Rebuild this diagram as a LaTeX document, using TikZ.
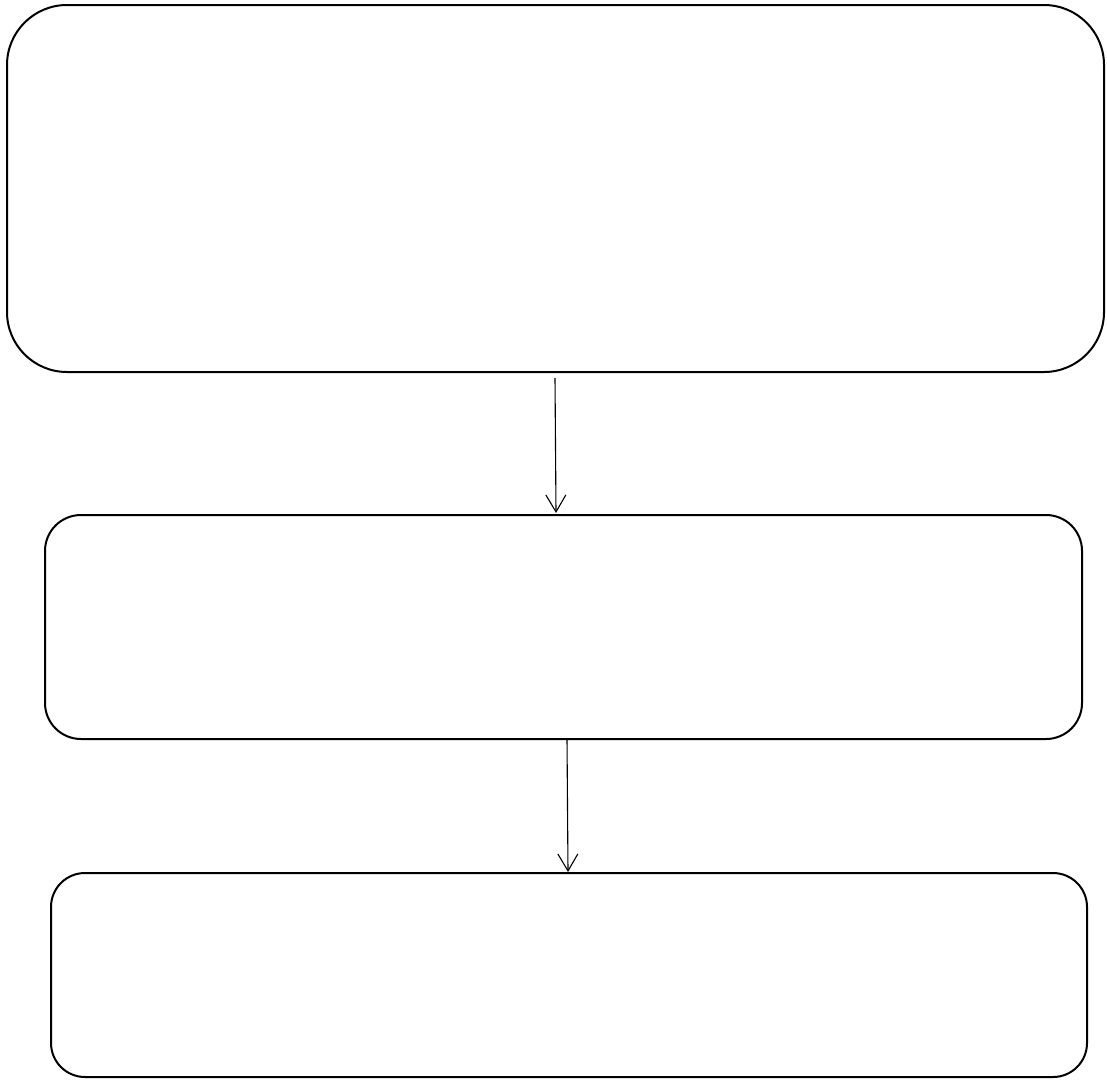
\documentclass[tikz,border=0pt]{standalone}
\usetikzlibrary{arrows.meta}
\begin{document}
\begin{tikzpicture}[x=1pt,y=1pt,
  boxstyle/.style={draw=black,line width=2pt,rectangle,inner sep=0pt,outer sep=0pt,fill=white},
  conn/.style={draw=black,line width=1.1pt,-{Straight Barb[length=17pt,width=20pt,line width=1.1pt]}}]
\useasboundingbox[fill=white] (0,0) rectangle (1107,-1079);
\node[boxstyle,rounded corners=60pt,minimum width=1097pt,minimum height=367pt] (b1) at (555.5,-188.5) {};
\node[boxstyle,rounded corners=36pt,minimum width=1037pt,minimum height=224pt] (b2) at (563.5,-627) {};
\node[boxstyle,rounded corners=34pt,minimum width=1036pt,minimum height=204pt] (b3) at (569,-975) {};
\draw[conn] ([xshift=-0.5pt,yshift=-6pt]b1.south) -- ([xshift=-7.5pt,yshift=2pt]b2.north);
\draw[conn] ([xshift=3.5pt]b2.south) -- ([xshift=-1pt,yshift=1pt]b3.north);
\end{tikzpicture}
\end{document}
